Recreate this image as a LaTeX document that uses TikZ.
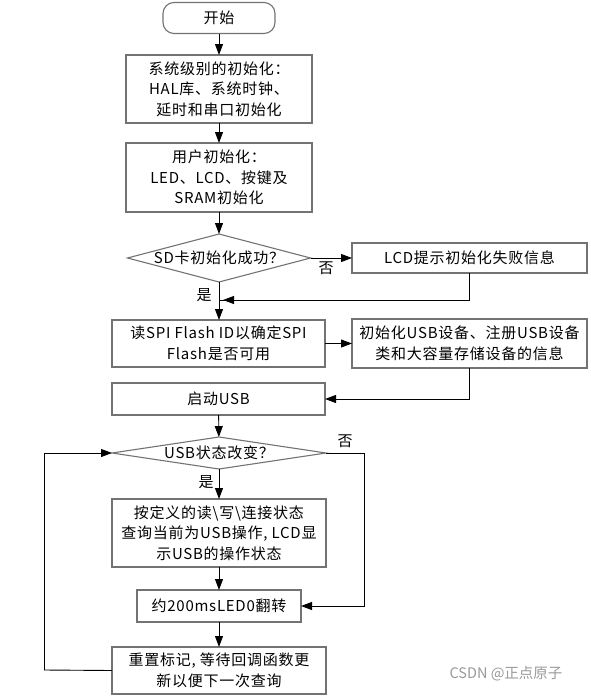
\documentclass[tikz,border=0pt]{standalone}
\usepackage{fontspec}
\setmainfont{Noto Sans CJK SC}[LetterSpace=5]
\newfontfamily\wmfont{Noto Sans CJK SC}
\usetikzlibrary{arrows.meta,shapes.geometric}
\definecolor{boxgray}{gray}{0.45}
\definecolor{wmgray}{gray}{0.6}
\begin{document}
\begin{tikzpicture}[x=1pt,y=-1pt,
  txt/.style={font=\fontsize{15}{20.5}\selectfont, align=center, inner sep=0pt},
  box/.style={txt, draw=boxgray, line width=1.1pt, rectangle, outer sep=0pt},
  startbox/.style={box, rounded corners=11pt},
  decision/.style={draw=boxgray, line width=1.1pt, diamond, inner sep=0pt, outer sep=0pt},
  arr/.style={draw=black, line width=0.9pt, -{Triangle[length=11pt,width=8pt]}},
  ln/.style={draw=black, line width=0.9pt},
  lbl/.style={font=\fontsize{15}{18}\selectfont, inner sep=0pt}
]
\useasboundingbox (0,0) rectangle (590,696);

\node[startbox, minimum width=112pt, minimum height=31pt] (start) at (219,18) {开始};
\node[box, minimum width=186pt, minimum height=68pt] (b1) at (219,89)
  {系统级别的初始化：\\HAL库、系统时钟、\\延时和串口初始化};
\node[box, minimum width=186pt, minimum height=69pt] (b2) at (219,177.5)
  {用户初始化：\\LED、LCD、按键及\\SRAM初始化};
\node[decision, minimum width=183pt, minimum height=48pt] (d1) at (219,258) {};
\node[txt] (d1t) at (d1.center) {SD卡初始化成功？};
\node[box, minimum width=235pt, minimum height=30pt] (fail) at (469.5,258) {LCD提示初始化失败信息};
\node[box, minimum width=213pt, minimum height=47pt] (spi) at (218.5,343.5)
  {读SPI Flash ID以确定SPI\\Flash是否可用};
\node[box, minimum width=235pt, minimum height=49pt] (usb) at (469.5,343.5)
  {初始化USB设备、注册USB设备\\类和大容量存储设备的信息};
\node[box, minimum width=213pt, minimum height=32pt] (susb) at (218.5,399) {启动USB};
\node[decision, minimum width=214pt, minimum height=32pt] (d2) at (219,453) {};
\node[txt] (d2t) at (d2.center) {USB状态改变？};
\node[box, minimum width=214pt, minimum height=68pt] (act) at (219,533)
  {按定义的读\textbackslash 写\textbackslash 连接状态\\查询当前为USB操作, LCD显\\示USB的操作状态};
\node[box, minimum width=164pt, minimum height=32pt] (led) at (219,606) {约200msLED0翻转};
\node[box, minimum width=214pt, minimum height=47pt] (reset) at (219,670.5)
  {重置标记, 等待回调函数更\\新以便下一次查询};

\coordinate (j1) at (219,300);
\coordinate (j2) at (364,453);
\coordinate (j3) at (44,670);

\draw[arr] (start) -- (b1);
\draw[arr] (b1) -- (b2);
\draw[arr] (b2) -- (d1);
\draw[arr] (d1.east) -- (fail.west);
\node[lbl] (no1) at (326,268) {否};
\draw[arr] (d1.south) -- (d1.south |- spi.north);
\node[lbl] (yes1) at (204,295) {是};
\draw[ln] (fail.south) |- (j1);
\draw[arr] (fail.south |- j1) -- ([xshift=4pt]j1);
\draw[arr] (spi.east) -- (usb.west);
\draw[ln] (usb.south) |- (susb.east -| usb.south);
\draw[arr] (susb.east -| usb.south) -- (susb.east);
\draw[arr] (susb) -- (d2);
\draw[arr] (d2.south) -- (act.north);
\node[lbl] (yes2) at (206,482) {是};
\draw[arr] (act) -- (led);
\draw[ln] (d2.east) -- (j2);
\draw[arr] (j2) |- (led.east);
\node[lbl] (no2) at (345,441) {否};
\draw[arr] (led) -- (reset);
\draw[ln] (reset.west) -- (j3);
\draw[arr] (j3) |- (d2.west);

\node[font=\wmfont\fontsize{14.5}{16}\selectfont, text=wmgray, inner sep=0pt] (wm) at (506,674) {CSDN @正点原子};
\end{tikzpicture}
\end{document}
